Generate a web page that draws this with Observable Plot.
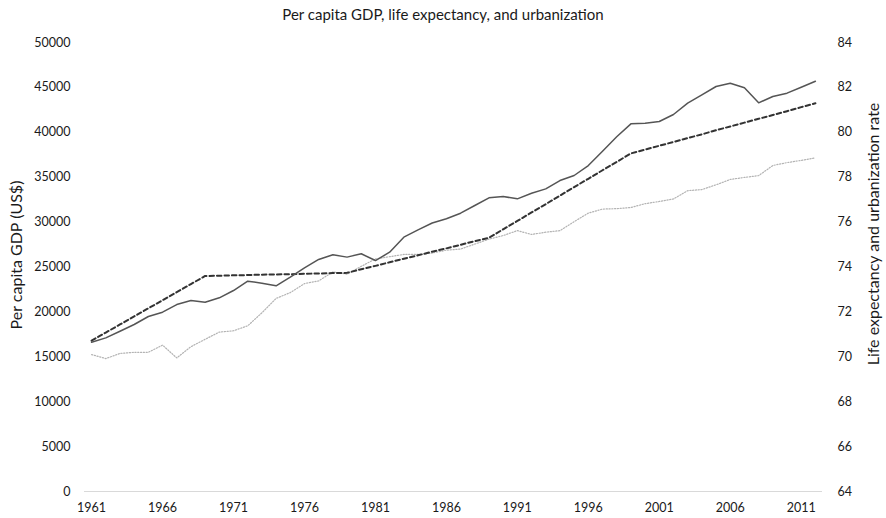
<!DOCTYPE html>
<html><head><meta charset="utf-8">
<script src="https://cdn.jsdelivr.net/npm/d3@7"></script>
<script src="https://cdn.jsdelivr.net/npm/@observablehq/plot@0.6"></script>
<style>
body{margin:0;background:#fff;font-family:Lato,"Open Sans",sans-serif;}
#title{height:28px;line-height:29px;text-align:center;font-size:15px;color:#1a1a1a;}
#chart svg{display:block;}
</style></head><body>
<div id="title">Per capita GDP, life expectancy, and urbanization</div>
<div id="chart"></div>
<script>
const years = [1961,1962,1963,1964,1965,1966,1967,1968,1969,1970,1971,1972,1973,1974,1975,1976,1977,1978,1979,1980,1981,1982,1983,1984,1985,1986,1987,1988,1989,1990,1991,1992,1993,1994,1995,1996,1997,1998,1999,2000,2001,2002,2003,2004,2005,2006,2007,2008,2009,2010,2011,2012];
const gdp = [16630,17110,17850,18600,19490,19970,20820,21270,21080,21570,22380,23420,23200,22900,23870,24910,25840,26360,26100,26470,25720,26650,28320,29140,29900,30370,30990,31850,32700,32850,32590,33220,33700,34630,35190,36300,37900,39500,40940,41010,41200,41980,43240,44170,45100,45470,44960,43280,43990,44360,45020,45690];
const urbanization = [70.72,71.08,71.44,71.80,72.16,72.52,72.88,73.24,73.60,73.61,73.63,73.64,73.66,73.67,73.68,73.70,73.71,73.73,73.74,73.90,74.05,74.21,74.37,74.52,74.68,74.83,74.99,75.15,75.30,75.68,76.05,76.43,76.80,77.18,77.56,77.93,78.31,78.68,79.06,79.23,79.40,79.57,79.74,79.91,80.09,80.26,80.43,80.60,80.77,80.94,81.12,81.29];
const lifeExpectancy = [70.10,69.92,70.15,70.20,70.20,70.52,69.95,70.45,70.78,71.10,71.16,71.38,71.96,72.60,72.86,73.26,73.38,73.78,73.68,74.03,74.36,74.46,74.56,74.56,74.62,74.75,74.80,75.02,75.24,75.40,75.62,75.45,75.55,75.62,76.02,76.40,76.58,76.60,76.65,76.82,76.92,77.03,77.40,77.45,77.66,77.90,77.99,78.07,78.52,78.65,78.75,78.86];
const xTicks = [1961,1966,1971,1976,1981,1986,1991,1996,2001,2006,2011];
const leftTicks = [0,5000,10000,15000,20000,25000,30000,35000,40000,45000,50000];
const rightTicks = [64,66,68,70,72,74,76,78,80,82,84];
const leftTitle = "Per capita GDP (US$)";
const rightTitle = "Life expectancy and urbanization rate";

// map right-axis values onto the left scale domain
const rMin = 64, rMax = 84, lMax = 50000;
const toLeft = v => (v - rMin) / (rMax - rMin) * lMax;

const data = years.map((yr, i) => ({
  year: yr, gdp: gdp[i],
  urb: toLeft(urbanization[i]), life: toLeft(lifeExpectancy[i])
}));

const textColor = "#1a1a1a";
const chart = Plot.plot({
  width: 886, height: 490,
  marginTop: 14, marginBottom: 27, marginLeft: 84, marginRight: 64,
  style: {fontFamily: "Lato, 'Open Sans', sans-serif", fontSize: "12.5px", color: textColor, background: "#fff"},
  x: {domain: [1960.5, 2012.5]},
  y: {domain: [0, lMax]},
  marks: [
    Plot.axisX(xTicks, {tickSize: 0, tickPadding: 12, tickFormat: d => String(d), label: null, fill: textColor}),
    Plot.axisY(leftTicks, {anchor: "left", tickSize: 0, tickPadding: 14, tickFormat: d => String(d), label: null, fill: textColor}),
    Plot.axisY(rightTicks.map(toLeft), {anchor: "right", tickSize: 0, tickPadding: 15,
      tickFormat: d => String(Math.round(d / lMax * (rMax - rMin) + rMin)), label: null, fill: textColor}),
    Plot.ruleY([0], {stroke: "#d9d9d9", strokeWidth: 1}),
    Plot.lineY(data, {x: "year", y: "life", stroke: "#b3b3b3", strokeWidth: 1.2, strokeDasharray: "1.2,1.6"}),
    Plot.lineY(data, {x: "year", y: "urb", stroke: "#333", strokeWidth: 2, strokeDasharray: "4.5,3"}),
    Plot.lineY(data, {x: "year", y: "gdp", stroke: "#555", strokeWidth: 1.5}),
    Plot.text([leftTitle], {frameAnchor: "left", rotate: -90, dx: -68, dy: -12, fontSize: 16, fill: textColor, textAnchor: "middle"}),
    Plot.text([rightTitle], {frameAnchor: "right", rotate: -90, dx: 51, dy: -33, fontSize: 16, fill: textColor, textAnchor: "middle"})
  ]
});
document.getElementById("chart").appendChild(chart);
</script>
</body></html>
